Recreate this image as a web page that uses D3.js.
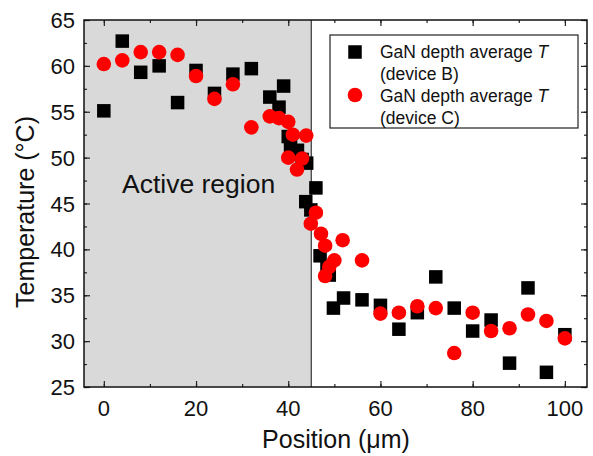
<!DOCTYPE html>
<html>
<head>
<meta charset="utf-8">
<script src="https://cdn.jsdelivr.net/npm/d3@7"></script>
<style>
  body { margin: 0; background: #fff; }
  svg text { font-family: "Liberation Sans", Arial, sans-serif; fill: #111; }
</style>
</head>
<body>
<div id="chart"></div>
<script>
// device B (squares)
var posB  = [0, 4, 8, 12, 16, 20, 24, 28, 32, 36, 38, 39, 40, 40.5, 41, 42, 43, 44, 43.8, 44.9, 46, 46.9, 48.4, 48.9, 49.8, 52, 56, 60, 64, 68, 72, 76, 80, 84, 88, 92, 96, 100];
var tempB = [55.1, 62.7, 59.3, 60.0, 56.0, 59.5, 57.0, 59.1, 59.7, 56.6, 55.5, 57.8, 52.3, 51.3, 50.6, 50.8, 49.8, 49.4, 45.2, 44.3, 46.7, 39.3, 38.0, 37.2, 33.6, 34.7, 34.5, 33.9, 31.3, 33.1, 37.0, 33.6, 31.1, 32.3, 27.6, 35.8, 26.6, 30.7];

// device C (circles)
var posC  = [0, 4, 8, 12, 16, 20, 24, 28, 32, 36, 38, 40, 41, 43.9, 40, 43, 41.9, 44.9, 46, 47.1, 48, 51.8, 50, 48.9, 48, 56, 60, 64, 68, 72, 76, 80, 84, 88, 92, 96, 100];
var tempC = [60.2, 60.6, 61.5, 61.5, 61.2, 58.9, 56.4, 58.0, 53.3, 54.5, 54.3, 53.9, 52.5, 52.4, 50.0, 49.9, 48.7, 42.8, 44.0, 41.7, 40.4, 41.0, 38.8, 38.1, 37.1, 38.8, 33.0, 33.1, 33.8, 33.6, 28.7, 33.1, 31.1, 31.4, 32.9, 32.2, 30.3];

var xTicks = [0, 20, 40, 60, 80, 100];
var yTicks = [25, 30, 35, 40, 45, 50, 55, 60, 65];
var activeEnd = 45;

function drawChart() {
  var width = 593, height = 456;
  var pLeft = 84, pRight = 587, pTop = 20, pBottom = 387;

  var x = d3.scaleLinear().domain([-4.3, 104.8]).range([pLeft, pRight]);
  var y = d3.scaleLinear().domain([25, 65]).range([pBottom, pTop]);

  var svg = d3.select("#chart").append("svg")
    .attr("width", width)
    .attr("height", height);

  /* active region shading */
  svg.append("rect")
    .attr("x", pLeft)
    .attr("y", pTop)
    .attr("width", x(activeEnd) - pLeft)
    .attr("height", pBottom - pTop)
    .attr("fill", "#d9d9d9");

  svg.append("line")
    .attr("x1", x(activeEnd)).attr("x2", x(activeEnd))
    .attr("y1", pTop).attr("y2", pBottom)
    .attr("stroke", "#444").attr("stroke-width", 1.3);

  svg.append("text")
    .attr("x", 122)
    .attr("y", 193)
    .style("font-size", "26.5px")
    .text("Active region");

  /* axes - ticks point inward on all four sides */
  var xMinor = d3.range(0, 101, 10);
  var yMinor = d3.range(25, 65.1, 2.5);

  svg.append("g")
    .attr("transform", `translate(0, ${pBottom})`)
    .call(d3.axisTop(x).tickValues(xMinor).tickSize(3).tickFormat(""));
  svg.append("g")
    .attr("transform", `translate(0, ${pBottom})`)
    .call(d3.axisTop(x).tickValues(xTicks).tickSize(6).tickFormat(""));
  svg.append("g")
    .attr("transform", `translate(0, ${pTop})`)
    .call(d3.axisBottom(x).tickValues(xMinor).tickSize(3).tickFormat(""));
  svg.append("g")
    .attr("transform", `translate(0, ${pTop})`)
    .call(d3.axisBottom(x).tickValues(xTicks).tickSize(6).tickFormat(""));

  svg.append("g")
    .attr("transform", `translate(${pLeft}, 0)`)
    .call(d3.axisRight(y).tickValues(yMinor).tickSize(3).tickFormat(""));
  svg.append("g")
    .attr("transform", `translate(${pLeft}, 0)`)
    .call(d3.axisRight(y).tickValues(yTicks).tickSize(6).tickFormat(""));
  svg.append("g")
    .attr("transform", `translate(${pRight}, 0)`)
    .call(d3.axisLeft(y).tickValues(yMinor).tickSize(3).tickFormat(""));
  svg.append("g")
    .attr("transform", `translate(${pRight}, 0)`)
    .call(d3.axisLeft(y).tickValues(yTicks).tickSize(6).tickFormat(""));

  svg.selectAll(".domain").remove();
  svg.selectAll(".tick line").attr("stroke", "#222").attr("stroke-width", 1.2);

  // frame
  svg.append("rect")
    .attr("x", pLeft).attr("y", pTop)
    .attr("width", pRight - pLeft).attr("height", pBottom - pTop)
    .attr("fill", "none").attr("stroke", "#111").attr("stroke-width", 1.5);

  // tick labels
  svg.append("g").selectAll("text")
    .data(xTicks).enter()
    .append("text")
    .attr("x", d => x(d))
    .attr("y", 416)
    .attr("text-anchor", "middle")
    .style("font-size", "22px")
    .text(d => d);

  svg.append("g").selectAll("text")
    .data(yTicks).enter()
    .append("text")
    .attr("x", 75)
    .attr("y", d => y(d) + 8)
    .attr("text-anchor", "end")
    .style("font-size", "22px")
    .text(d => d);

  // axis titles
  svg.append("text")
    .attr("x", 336)
    .attr("y", 448)
    .attr("text-anchor", "middle")
    .style("font-size", "25px")
    .text("Position (\u03bcm)");

  svg.append("text")
    .attr("transform", "translate(34, 212) rotate(-90)")
    .attr("text-anchor", "middle")
    .style("font-size", "25px")
    .text("Temperature (\u00b0C)");

  /* markers */
  var sq = 13.5, rad = 7.3;
  var dataB = posB.map((p, i) => ({pos: p, temp: tempB[i]}));
  var dataC = posC.map((p, i) => ({pos: p, temp: tempC[i]}));

  svg.append("g").selectAll("rect")
    .data(dataB).enter()
    .append("rect")
    .attr("x", d => x(d.pos) - sq / 2)
    .attr("y", d => y(d.temp) - sq / 2)
    .attr("width", sq).attr("height", sq)
    .attr("fill", "#000");

  svg.append("g").selectAll("circle")
    .data(dataC).enter()
    .append("circle")
    .attr("cx", d => x(d.pos))
    .attr("cy", d => y(d.temp))
    .attr("r", rad)
    .attr("fill", "#ff0000");

  /* legend */
  var lg = svg.append("g");
  lg.append("rect")
    .attr("x", 330).attr("y", 35)
    .attr("width", 248).attr("height", 93)
    .attr("fill", "#fff").attr("stroke", "#222").attr("stroke-width", 1.2);

  lg.append("rect")
    .attr("x", 355 - sq / 2).attr("y", 52 - sq / 2)
    .attr("width", sq).attr("height", sq)
    .attr("fill", "#000");
  lg.append("circle")
    .attr("cx", 355).attr("cy", 95)
    .attr("r", rad).attr("fill", "#ff0000");

  var legendLines = [
    ["GaN depth average ", "T", 58],
    ["(device B)", "", 80],
    ["GaN depth average ", "T", 102],
    ["(device C)", "", 124]
  ];
  legendLines.forEach(function(l) {
    var t = lg.append("text")
      .attr("x", 380).attr("y", l[2])
      .style("font-size", "17.5px");
    t.append("tspan").text(l[0]);
    if (l[1]) t.append("tspan").style("font-style", "italic").text(l[1]);
  });
}
drawChart();
</script>
</body>
</html>
